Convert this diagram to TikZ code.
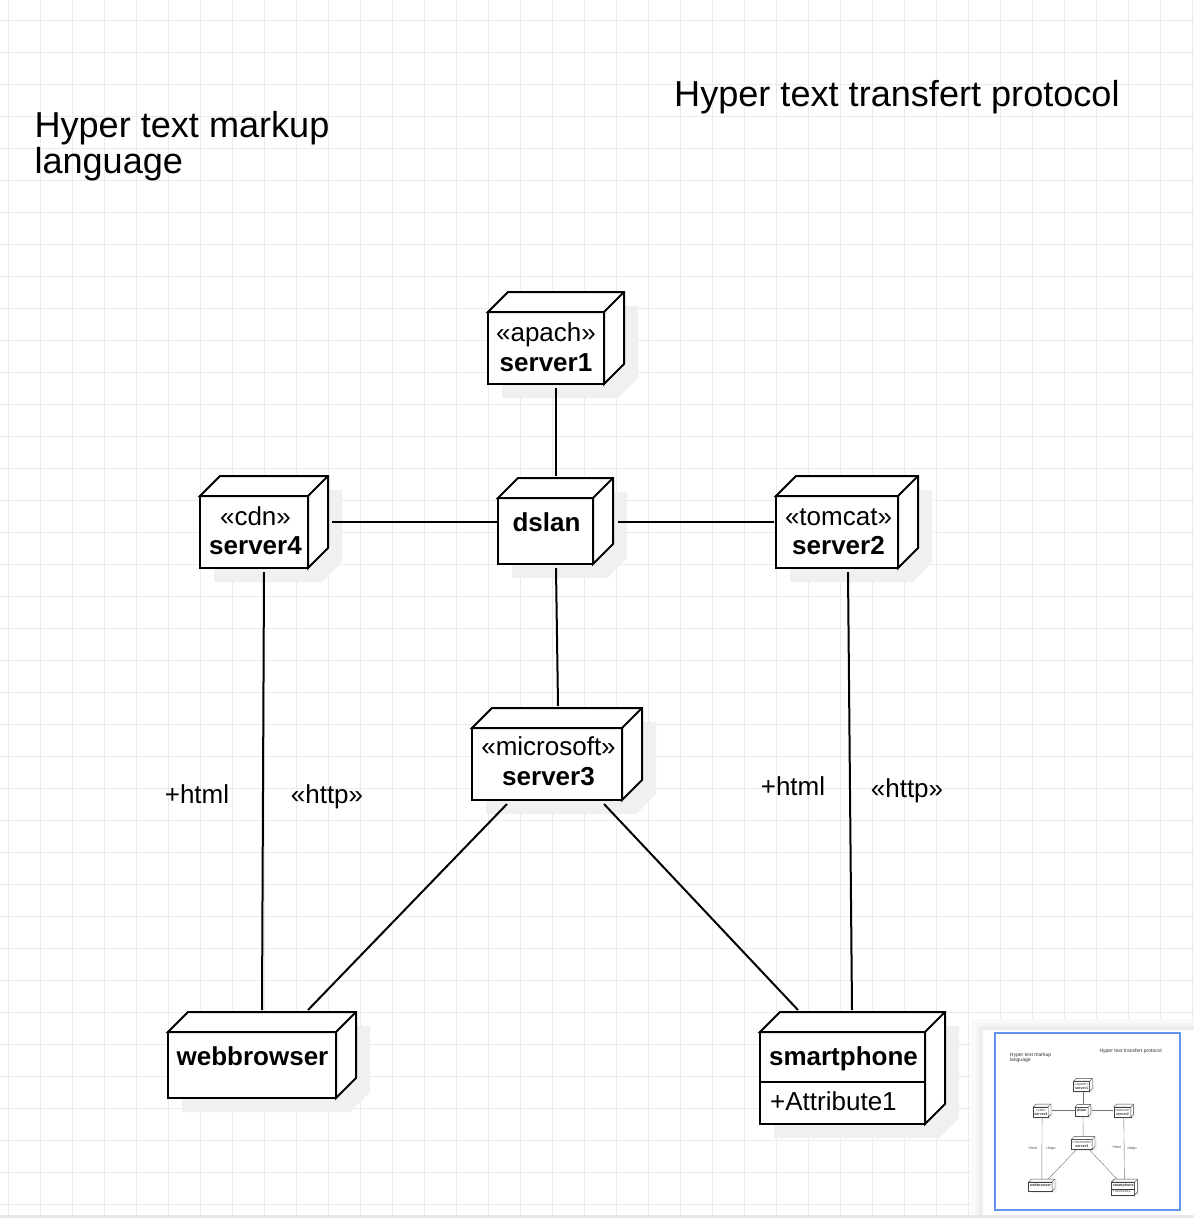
\documentclass[tikz,border=0pt]{standalone}
\usepackage{fontspec}
\setmainfont{Liberation Sans}
\definecolor{gridc}{RGB}{235,235,235}
\definecolor{shadowc}{RGB}{240,240,240}
\definecolor{miniblue}{RGB}{98,148,238}
\definecolor{bandc}{RGB}{232,232,232}
% #1 name, #2 left, #3 top, #4 right, #5 bottom (pixel coordinates of the front face)
\newcommand\depnode[5]{%
  \fill[nodeshadow] (#2+14,#5+14) -- (#2+14,#3+14) -- (#2+34,#3-6) -- (#4+34,#3-6) -- (#4+34,#5-6) -- (#4+14,#5+14) -- cycle;
  \node[nodebox, minimum width={#4-#2}, minimum height={#5-#3}] (#1) at ({(#2+#4)/2},{(#3+#5)/2}) {};
  \draw[nodeline] (#1.north west) -- ++(20,-20) -- ([shift={(20,-20)}]#1.north east) -- ([shift={(20,-20)}]#1.south east) -- (#1.south east) -- (#1.north east) -- cycle;
  \draw[nodeline] (#1.north east) -- ++(20,-20);
}
\newcommand\drawdiagram{%
  % titles
  \node[ttl] (title-l1) at (34.3,137.7) {Hyper text markup};
  \node[ttl] (title-l2) at (34.3,173.3) {language};
  \node[ttl] (title-r) at (674,106) {Hyper text transfert protocol};
  % nodes
  \depnode{server1}{488}{312}{604}{384}
  \depnode{server4}{200}{496}{308}{568}
  \depnode{dslan}{498}{498}{593}{564}
  \depnode{server2}{776}{496}{898}{568}
  \depnode{server3}{472}{728}{622}{800}
  \depnode{webbrowser}{168}{1032}{336}{1098}
  \depnode{smartphone}{760}{1032}{925}{1124}
  \draw[nodeline] ([shift={(0,50)}]smartphone.north west) -- ([shift={(1,50)}]smartphone.north east);
  % node texts
  \node[st] (server1-st) at (546,341) {«apach»};
  \node[nt] (server1-nm) at (546,371) {server1};
  \node[st] (server4-st) at (255.5,525) {«cdn»};
  \node[nt] (server4-nm) at (255.5,554) {server4};
  \node[nt] (dslan-nm) at (546.5,531) {dslan};
  \node[st] (server2-st) at (838.5,525) {«tomcat»};
  \node[nt] (server2-nm) at (838.5,554) {server2};
  \node[st] (server3-st) at (548.5,755) {«microsoft»};
  \node[nt] (server3-nm) at (548.5,785) {server3};
  \node[nt] (webbrowser-nm) at (252.5,1065) {webbrowser};
  \node[nt] (smartphone-nm) at (843.5,1065) {smartphone};
  \node[st, anchor=base west] (smartphone-attr) at (770,1110) {+Attribute1};
  % edge labels
  \node[st] (lbl-html-l) at (197,803) {+html};
  \node[st] (lbl-http-l) at (327,803) {«http»};
  \node[st] (lbl-html-r) at (793,795) {+html};
  \node[st] (lbl-http-r) at (907,797) {«http»};
  % connectors
  \draw[conn] ([shift={(10,4)}]server1.south) -- ([shift={(10.5,-22)}]dslan.north);
  \draw[conn] ([shift={(24,-10)}]server4.east) -- ([shift={(-1,-9)}]dslan.west);
  \draw[conn] ([shift={(25,-9)}]dslan.east) -- ([shift={(-2,-10)}]server2.west);
  \draw[conn] ([shift={(10.5,4)}]dslan.south) -- ([shift={(11,-22)}]server3.north);
  \draw[conn] ([shift={(10,4)}]server4.south) -- ([shift={(10,-22)}]webbrowser.north);
  \draw[conn] ([shift={(11,4)}]server2.south) -- ([shift={(9.5,-22)}]smartphone.north);
  \draw[conn] ([shift={(-40,4)}]server3.south) -- ([shift={(56,-22)}]webbrowser.north);
  \draw[conn] ([shift={(57,4)}]server3.south) -- ([shift={(-44.5,-22)}]smartphone.north);
}
\begin{document}
\begin{tikzpicture}[x=1pt,y=-1pt,
  gridline/.style={draw=gridc, line width=1pt},
  nodeshadow/.style={fill=shadowc},
  nodebox/.style={draw, line width=2pt, fill=white, rectangle, inner sep=0pt, outer sep=0pt},
  nodeline/.style={draw, line width=2pt, fill=white, line join=miter},
  conn/.style={draw, line width=2pt},
  nt/.style={anchor=base, inner sep=0pt, font=\fontsize{26}{30}\selectfont\bfseries},
  st/.style={anchor=base, inner sep=0pt, font=\fontsize{26}{30}\selectfont},
  ttl/.style={anchor=base west, inner sep=0pt, font=\fontsize{36.1}{36}\selectfont}]
\useasboundingbox (0,0) rectangle (1194,1218);
\fill[white] (0,0) rectangle (1194,1218);
\foreach \i in {0,...,37} {\draw[gridline] ({8+32*\i},0) -- ({8+32*\i},1218);}
\foreach \j in {0,...,37} {\draw[gridline] (0,{20+32*\j}) -- (1194,{20+32*\j});}
\drawdiagram
% minimap panel
\fill[black!2] (972,1019) rectangle (1194,1218);
\fill[black!4] (976,1023) rectangle (1194,1218);
\fill[black!7] (979,1026) rectangle (1194,1218);
\fill[white] (983,1030) rectangle (1194,1218);
\begin{scope}[shift={(1005.1,1037.5)}, scale=0.14, name prefix=m-,
  every node/.append style={transform shape},
  nodeshadow/.style={fill=black!5},
  nodebox/.style={draw=black!75, line width=0.4pt, fill=white, rectangle, inner sep=0pt, outer sep=0pt},
  nodeline/.style={draw=black!75, line width=0.4pt, fill=white},
  conn/.style={draw=black!55, line width=0.4pt},
  nt/.style={anchor=base, inner sep=0pt, text=black!80, font=\fontsize{26}{30}\selectfont\bfseries},
  st/.style={anchor=base, inner sep=0pt, text=black!70, font=\fontsize{26}{30}\selectfont},
  ttl/.style={anchor=base west, inner sep=0pt, text=black!80, font=\fontsize{36.1}{36}\selectfont}]
\drawdiagram
\end{scope}
\draw[miniblue, line width=2pt] (995,1033) rectangle (1179.5,1210);
\fill[bandc] (0,1214.5) rectangle (1194,1218);
\end{tikzpicture}
\end{document}
